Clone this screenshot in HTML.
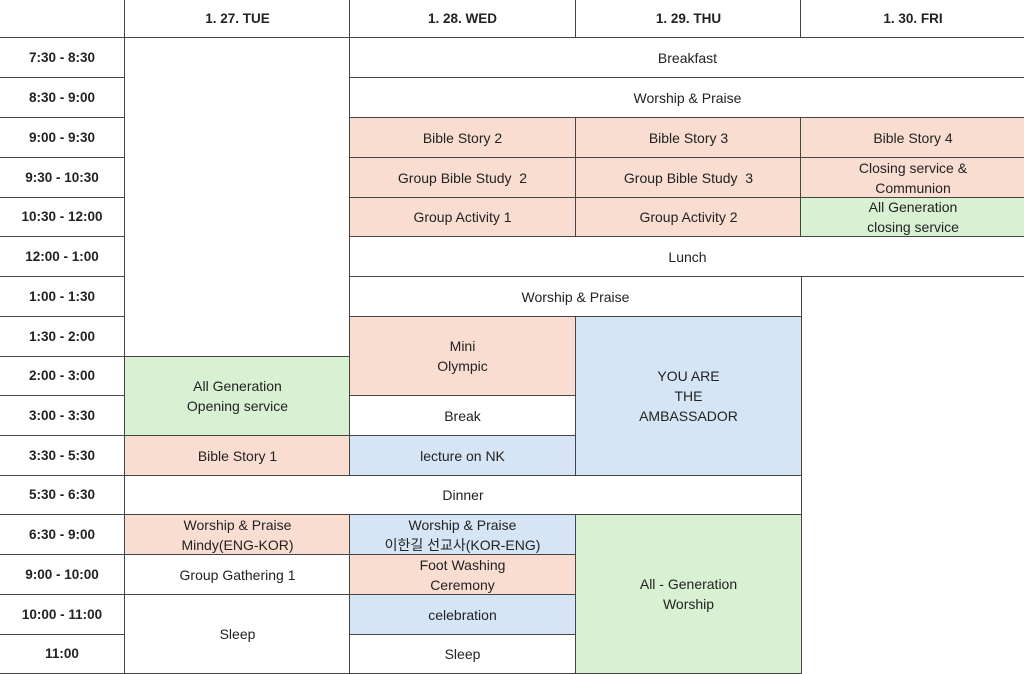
<!DOCTYPE html>
<html><head><meta charset="utf-8"><style>
body{margin:0;width:1024px;height:672px;background:#fff;position:relative;overflow:hidden;font-family:"Liberation Sans","Noto Sans CJK KR",sans-serif;font-size:14px;color:#222}
.c{position:absolute;box-sizing:border-box;border:1px solid #444;display:flex;align-items:center;justify-content:center;text-align:center;line-height:20px;background:#fff}
.b{font-weight:bold;font-size:13.5px}
.p{background:#f9ddd0}.g{background:#d9f1d3}.u{background:#d6e5f5}
</style></head><body>
<div class="c" style="left:-1px;top:-1px;width:126px;height:40px"></div>
<div class="c b" style="left:124px;top:-1px;width:227px;height:40px">1. 27. TUE</div>
<div class="c b" style="left:349px;top:-1px;width:227px;height:40px">1. 28. WED</div>
<div class="c b" style="left:575px;top:-1px;width:227px;height:40px">1. 29. THU</div>
<div class="c b" style="left:800px;top:-1px;width:226px;height:40px">1. 30. FRI</div>

<div class="c b" style="left:-1px;top:37px;width:126px;height:41px">7:30 - 8:30</div>
<div class="c b" style="left:-1px;top:77px;width:126px;height:41px">8:30 - 9:00</div>
<div class="c b" style="left:-1px;top:117px;width:126px;height:41px">9:00 - 9:30</div>
<div class="c b" style="left:-1px;top:157px;width:126px;height:41px">9:30 - 10:30</div>
<div class="c b" style="left:-1px;top:197px;width:126px;height:40px">10:30 - 12:00</div>
<div class="c b" style="left:-1px;top:236px;width:126px;height:41px">12:00 - 1:00</div>
<div class="c b" style="left:-1px;top:276px;width:126px;height:41px">1:00 - 1:30</div>
<div class="c b" style="left:-1px;top:316px;width:126px;height:41px">1:30 - 2:00</div>
<div class="c b" style="left:-1px;top:356px;width:126px;height:40px">2:00 - 3:00</div>
<div class="c b" style="left:-1px;top:395px;width:126px;height:41px">3:00 - 3:30</div>
<div class="c b" style="left:-1px;top:435px;width:126px;height:41px">3:30 - 5:30</div>
<div class="c b" style="left:-1px;top:475px;width:126px;height:40px">5:30 - 6:30</div>
<div class="c b" style="left:-1px;top:514px;width:126px;height:41px">6:30 - 9:00</div>
<div class="c b" style="left:-1px;top:554px;width:126px;height:41px">9:00 - 10:00</div>
<div class="c b" style="left:-1px;top:594px;width:126px;height:41px">10:00 - 11:00</div>
<div class="c b" style="left:-1px;top:634px;width:126px;height:40px">11:00</div>

<div class="c" style="left:124px;top:37px;width:227px;height:320px"></div>
<div class="c g" style="left:124px;top:356px;width:227px;height:80px">All Generation<br>Opening service</div>
<div class="c p" style="left:124px;top:435px;width:227px;height:41px">Bible Story 1</div>
<div class="c" style="left:124px;top:475px;width:678px;height:40px">Dinner</div>
<div class="c p" style="left:124px;top:514px;width:227px;height:41px">Worship &amp; Praise<br>Mindy(ENG-KOR)</div>
<div class="c" style="left:124px;top:554px;width:227px;height:41px">Group Gathering 1</div>
<div class="c" style="left:124px;top:594px;width:227px;height:80px">Sleep</div>

<div class="c" style="left:349px;top:37px;width:677px;height:41px">Breakfast</div>
<div class="c" style="left:349px;top:77px;width:677px;height:41px">Worship &amp; Praise</div>
<div class="c p" style="left:349px;top:117px;width:227px;height:41px">Bible Story 2</div>
<div class="c p" style="left:575px;top:117px;width:227px;height:41px">Bible Story 3</div>
<div class="c p" style="left:800px;top:117px;width:226px;height:41px">Bible Story 4</div>
<div class="c p" style="left:349px;top:157px;width:227px;height:41px">Group Bible Study &nbsp;2</div>
<div class="c p" style="left:575px;top:157px;width:227px;height:41px">Group Bible Study &nbsp;3</div>
<div class="c p" style="left:800px;top:157px;width:226px;height:41px">Closing service &amp;<br>Communion</div>
<div class="c p" style="left:349px;top:197px;width:227px;height:40px">Group Activity 1</div>
<div class="c p" style="left:575px;top:197px;width:227px;height:40px">Group Activity 2</div>
<div class="c g" style="left:800px;top:197px;width:226px;height:40px">All Generation<br>closing service</div>
<div class="c" style="left:349px;top:236px;width:677px;height:41px">Lunch</div>
<div class="c" style="left:349px;top:276px;width:453px;height:41px">Worship &amp; Praise</div>
<div class="c p" style="left:349px;top:316px;width:227px;height:80px">Mini<br>Olympic</div>
<div class="c" style="left:349px;top:395px;width:227px;height:41px">Break</div>
<div class="c u" style="left:349px;top:435px;width:227px;height:41px">lecture on NK</div>
<div class="c u" style="left:575px;top:316px;width:227px;height:160px">YOU ARE<br>THE<br>AMBASSADOR</div>
<div class="c u" style="left:349px;top:514px;width:227px;height:41px">Worship &amp; Praise<br>이한길 선교사(KOR-ENG)</div>
<div class="c p" style="left:349px;top:554px;width:227px;height:41px">Foot Washing<br>Ceremony</div>
<div class="c u" style="left:349px;top:594px;width:227px;height:41px">celebration</div>
<div class="c" style="left:349px;top:634px;width:227px;height:40px">Sleep</div>
<div class="c g" style="left:575px;top:514px;width:227px;height:160px">All - Generation<br>Worship</div>
</body></html>
